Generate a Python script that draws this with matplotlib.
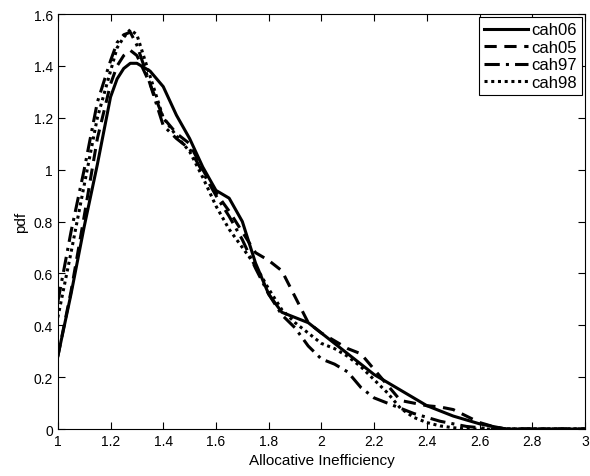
import matplotlib.pyplot as plt

plt.rcParams["font.family"] = ["Liberation Sans", "DejaVu Sans"]

x = [1.00, 1.05, 1.10, 1.15, 1.20, 1.225, 1.25, 1.275, 1.30, 1.35, 1.40, 1.45, 1.50, 1.55,
     1.60, 1.65, 1.70, 1.75, 1.80, 1.85, 1.90, 1.95, 2.00, 2.05, 2.10, 2.15, 2.20, 2.25,
     2.30, 2.35, 2.40, 2.45, 2.50, 2.55, 2.60, 2.65, 2.70, 2.80, 2.90, 3.00]

cah06 = [0.28, 0.52, 0.78, 1.02, 1.28, 1.35, 1.39, 1.41, 1.41, 1.38, 1.32, 1.21, 1.12, 1.01,
         0.92, 0.89, 0.80, 0.64, 0.52, 0.45, 0.43, 0.41, 0.37, 0.33, 0.29, 0.25, 0.21, 0.18,
         0.15, 0.12, 0.09, 0.07, 0.05, 0.035, 0.02, 0.01, 0.0, 0.0, 0.0, 0.0]
cah05 = [0.28, 0.53, 0.82, 1.12, 1.33, 1.40, 1.44, 1.46, 1.44, 1.33, 1.20, 1.14, 1.10, 1.00,
         0.91, 0.84, 0.76, 0.68, 0.65, 0.61, 0.51, 0.41, 0.37, 0.34, 0.31, 0.29, 0.23, 0.17,
         0.11, 0.10, 0.09, 0.085, 0.075, 0.05, 0.025, 0.01, 0.0, 0.0, 0.0, 0.0]
cah97 = [0.49, 0.76, 1.00, 1.26, 1.42, 1.49, 1.52, 1.53, 1.48, 1.33, 1.17, 1.12, 1.08, 0.99,
         0.90, 0.82, 0.73, 0.62, 0.52, 0.44, 0.39, 0.32, 0.27, 0.25, 0.22, 0.16, 0.12, 0.10,
         0.08, 0.06, 0.045, 0.03, 0.02, 0.01, 0.005, 0.0, 0.0, 0.0, 0.0, 0.0]
cah98 = [0.43, 0.68, 0.94, 1.20, 1.38, 1.47, 1.51, 1.54, 1.52, 1.36, 1.20, 1.13, 1.07, 0.97,
         0.86, 0.77, 0.70, 0.63, 0.54, 0.46, 0.41, 0.37, 0.33, 0.31, 0.28, 0.24, 0.19, 0.14,
         0.08, 0.045, 0.025, 0.012, 0.005, 0.0, 0.0, 0.0, 0.0, 0.0, 0.0, 0.0]

series = [("cah06", cah06, "-"), ("cah05", cah05, (0, (4, 2.5))),
          ("cah97", cah97, (0, (5, 2, 1, 2))), ("cah98", cah98, (0, (1, 1.2)))]

fig = plt.figure(figsize=(5.9, 4.77), dpi=100)
ax = fig.add_axes([0.098, 0.0985, 0.8935, 0.87])

for label, y, ls in series:
    ax.plot(x, y, color="black", linestyle=ls, linewidth=2.2, label=label)

ax.set_xlim(1, 3)
ax.set_ylim(0, 1.6)
ax.set_xticks([1, 1.2, 1.4, 1.6, 1.8, 2, 2.2, 2.4, 2.6, 2.8, 3])
ax.set_xticklabels(["1", "1.2", "1.4", "1.6", "1.8", "2", "2.2", "2.4", "2.6", "2.8", "3"])
ax.set_yticks([0, 0.2, 0.4, 0.6, 0.8, 1, 1.2, 1.4, 1.6])
ax.set_yticklabels(["0", "0.2", "0.4", "0.6", "0.8", "1", "1.2", "1.4", "1.6"])
ax.tick_params(direction="in", top=True, right=True, length=5, labelsize=10)
ax.set_xlabel("Allocative Inefficiency", fontsize=11)
ax.set_ylabel("pdf", fontsize=11)

leg = ax.legend(loc="upper right", fontsize=12, handlelength=2.6, handletextpad=0.2,
                borderaxespad=0.2, borderpad=0.3, labelspacing=0.15, fancybox=False,
                framealpha=1)
leg.get_frame().set_edgecolor("black")
leg.get_frame().set_linewidth(0.8)

fig.savefig("out.png", dpi=100)
